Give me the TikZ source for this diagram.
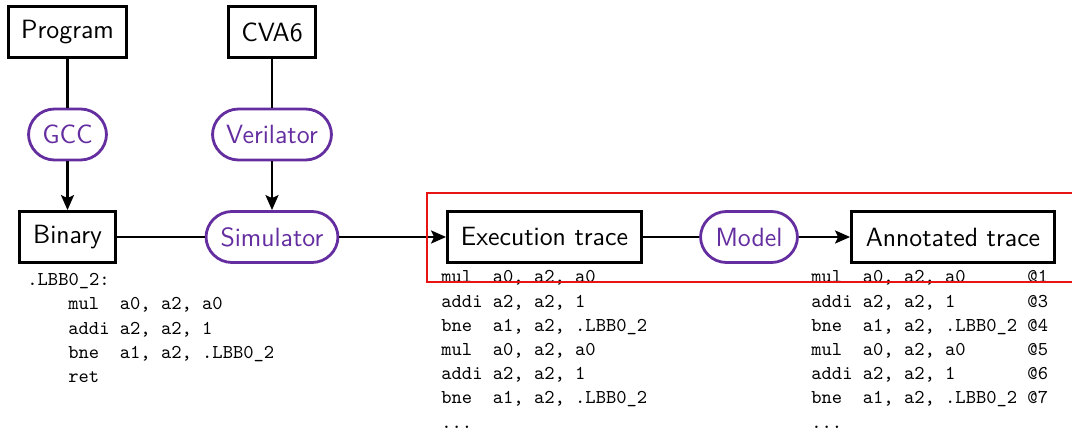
\documentclass[tikz,border=0pt]{standalone}
\usepackage{fontspec}
\usetikzlibrary{arrows.meta}
\definecolor{toolpurple}{RGB}{100,45,160}
\definecolor{hired}{RGB}{232,20,20}
\newcommand{\labfont}{\sffamily\fontsize{13.2}{15}\selectfont}
\newcommand{\codefont}{\ttfamily\fontsize{9.8}{12.1}\selectfont}
\begin{document}
\begin{tikzpicture}[x=0.5pt,y=-0.5pt,
  box/.style={draw, line width=1.4pt, inner sep=0pt, font=\labfont, text=black, minimum height=25.5pt},
  tool/.style={draw=toolpurple, line width=1.4pt, inner sep=0pt, rounded corners=13pt, font=\labfont, text=toolpurple, minimum height=25.5pt},
  flow/.style={line width=1.2pt},
  arr/.style={flow, -{Stealth[length=7.5pt,width=6.5pt,inset=1.5pt]}},
  code/.style={anchor=base west, inner sep=0pt, font=\codefont},
  hilite/.style={draw=hired, line width=1.1pt}]
\useasboundingbox (0,0) rectangle (1072,432);

% nodes
\node[box, minimum width=59pt] (prog) at (67.5,32) {Program};
\node[box, minimum width=43.5pt] (cva) at (272,32) {CVA6};
\node[tool, minimum width=39pt] (gcc) at (67.5,134.5) {GCC};
\node[tool, minimum width=59.5pt] (veri) at (272,134.5) {Verilator};
\node[box, minimum width=48pt] (bin) at (67.5,237) {Binary};
\node[tool, minimum width=66pt] (sim) at (272,237) {Simulator};
\node[box, minimum width=97pt] (exec) at (544.5,237) {Execution trace};
\node[tool, minimum width=48.5pt] (model) at (749,237) {Model};
\node[box, minimum width=101.5pt] (ann) at (953,237) {Annotated trace};

% connectors
\draw[flow] (prog) -- (gcc);
\draw[arr] (gcc) -- (bin);
\draw[flow] (cva) -- (veri);
\draw[arr] (veri) -- (sim);
\draw[flow] (bin) -- (sim);
\draw[arr] (sim) -- (exec);
\draw[flow] (exec) -- (model);
\draw[arr] (model) -- (ann);

% binary code
\node[code] (b0) at (27,286) {.LBB0\_2:};
\node[code] (b1) at (68,310) {mul\ \ a0, a2, a0};
\node[code] (b2) at (68,334.3) {addi a2, a2, 1};
\node[code] (b3) at (68,358.6) {bne\ \ a1, a2, .LBB0\_2};
\node[code] (b4) at (68,382.9) {ret};

% execution trace
\node[code] (e0) at (441,283) {mul\ \ a0, a2, a0};
\node[code] (e1) at (441,307.2) {addi a2, a2, 1};
\node[code] (e2) at (441,331.4) {bne\ \ a1, a2, .LBB0\_2};
\node[code] (e3) at (441,355.6) {mul\ \ a0, a2, a0};
\node[code] (e4) at (441,379.8) {addi a2, a2, 1};
\node[code] (e5) at (441,404) {bne\ \ a1, a2, .LBB0\_2};
\node[code] (e6) at (441,428.2) {...};

% annotated trace
\node[code] (a0) at (811,283) {mul\ \ a0, a2, a0\ \ \ \ \ \ @1};
\node[code] (a1) at (811,307.2) {addi a2, a2, 1\ \ \ \ \ \ \ @3};
\node[code] (a2) at (811,331.4) {bne\ \ a1, a2, .LBB0\_2 @4};
\node[code] (a3) at (811,355.6) {mul\ \ a0, a2, a0\ \ \ \ \ \ @5};
\node[code] (a4) at (811,379.8) {addi a2, a2, 1\ \ \ \ \ \ \ @6};
\node[code] (a5) at (811,404) {bne\ \ a1, a2, .LBB0\_2 @7};
\node[code] (a6) at (811,428.2) {...};

% highlight
\draw[hilite] (427,193) rectangle (1090,282);
\end{tikzpicture}
\end{document}
